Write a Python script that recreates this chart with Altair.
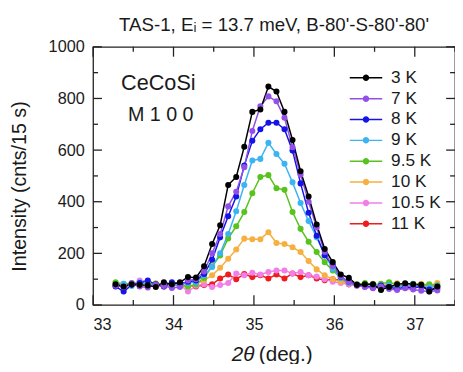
import altair as alt
import pandas as pd

# ---- data ----
two_theta = [33.28, 33.38, 33.48, 33.58, 33.68, 33.78, 33.88, 33.98, 34.08, 34.18,
             34.28, 34.38, 34.48, 34.58, 34.68, 34.78, 34.88, 34.98, 35.08, 35.18,
             35.28, 35.38, 35.48, 35.58, 35.68, 35.78, 35.88, 35.98, 36.08, 36.18,
             36.28, 36.38, 36.48, 36.58, 36.68, 36.78, 36.88, 36.98, 37.08, 37.18,
             37.28]

series_labels = ["3 K", "7 K", "8 K", "9 K", "9.5 K", "10 K", "10.5 K", "11 K"]
series_colors = ["#000000", "#9350e8", "#1414e8", "#3cb4f2", "#58c21e", "#f6b042", "#f27fe9", "#ee1c1c"]

i_3K = [80, 72, 80, 78, 76, 70, 88, 80, 88, 108, 106, 150, 236, 309, 465, 496, 613, 748, 757, 846,
        827, 748, 639, 518, 420, 312, 217, 166, 118, 105, 78, 80, 80, 58, 70, 80, 84, 80, 78, 52, 72]
i_7K = [75, 70, 85, 72, 68, 78, 74, 66, 70, 95, 100, 130, 200, 275, 382, 439, 534, 674, 770, 808,
        789, 725, 611, 505, 400, 300, 205, 150, 110, 88, 75, 70, 65, 72, 62, 58, 65, 60, 55, 52, 56]
i_8K = [72, 52, 78, 85, 95, 80, 72, 88, 82, 90, 95, 120, 175, 262, 344, 420, 540, 636, 681, 706,
        706, 681, 598, 471, 357, 268, 192, 154, 109, 90, 78, 72, 68, 75, 70, 62, 70, 66, 72, 60, 64]
i_9K = [78, 82, 74, 88, 80, 76, 84, 78, 80, 85, 88, 115, 147, 200, 275, 363, 465, 560, 566, 628,
        585, 547, 475, 395, 325, 262, 195, 140, 105, 85, 78, 75, 80, 72, 76, 70, 75, 80, 72, 68, 74]
i_9p5K = [88, 80, 84, 78, 86, 82, 78, 80, 75, 72, 80, 105, 150, 192, 258, 305, 360, 433, 496, 503,
          452, 446, 360, 295, 245, 205, 166, 134, 105, 88, 80, 85, 78, 82, 88, 80, 76, 82, 78, 80, 76]
i_10K = [80, 78, 82, 76, 80, 84, 78, 80, 76, 72, 80, 96, 115, 144, 179, 215, 257, 255, 255, 282,
         240, 236, 224, 205, 170, 138, 115, 100, 90, 84, 80, 78, 82, 76, 80, 84, 78, 80, 82, 76, 85]
i_10p5K = [85, 80, 78, 95, 92, 80, 85, 75, 80, 52, 75, 80, 70, 77, 85, 122, 115, 125, 118, 128,
           134, 134, 122, 128, 115, 110, 100, 90, 85, 80, 76, 74, 80, 72, 70, 78, 74, 70, 76, 72, 70]
i_11K = [75, 72, 78, 74, 80, 76, 72, 78, 74, 76, 72, 77, 80, 103, 118, 100, 120, 108, 115, 103,
         118, 103, 122, 108, 115, 103, 96, 100, 96, 80, 77, 75, 72, 78, 74, 76, 72, 75, 78, 74, 72]

x_major = [33, 34, 35, 36, 37]
x_minor = [33.5, 34.5, 35.5, 36.5, 37.5]
y_major = [0, 200, 400, 600, 800, 1000]
y_minor = [100, 300, 500, 700, 900]

series_values = [i_3K, i_7K, i_8K, i_9K, i_9p5K, i_10K, i_10p5K, i_11K]

rows = []
# draw high-T series first so 3 K sits on top
for label, vals in reversed(list(zip(series_labels, series_values))):
    for x, y in zip(two_theta, vals):
        rows.append({"series": label, "two_theta": x, "intensity": y})
df = pd.DataFrame(rows)

W, H = 368, 262.5
FONT = "Liberation Sans"
TXT = "#1a1a1a"

xscale = alt.Scale(domain=[33, 37.5], nice=False, zero=False)
yscale = alt.Scale(domain=[0, 1000], nice=False, zero=False)

x_axis = alt.Axis(title=None, values=x_major, format="d", ticks=False, domain=False, grid=False,
                  labelFontSize=16.5, labelPadding=12, labelFont=FONT, labelColor=TXT)
y_axis = alt.Axis(title="Intensity (cnts/15 s)", values=y_major, format="d", ticks=False, domain=False, grid=False,
                  labelFontSize=16.5, labelPadding=9, labelFont=FONT, labelColor=TXT,
                  titleFontSize=20, titleFont=FONT, titleFontWeight="normal", titleColor=TXT,
                  titlePadding=19, titleY=141.5)

color_scale = alt.Scale(domain=series_labels, range=series_colors)

legend_path = ("M-1.65,-0.075 L1.65,-0.075 L1.65,0.075 L-1.65,0.075 Z "
               "M0.33,0 A0.33,0.33 0 1,1 -0.33,0 A0.33,0.33 0 1,1 0.33,0 Z")
legend = alt.Legend(title=None, orient="none", legendX=267.5, legendY=21.5,
                    symbolType=legend_path, symbolSize=400, symbolStrokeWidth=0,
                    symbolOpacity=1, labelFontSize=17.5, labelFont=FONT,
                    labelColor=TXT, labelOffset=15.5, rowPadding=2.2, padding=0)

enc_x = alt.X("two_theta:Q", scale=xscale, axis=x_axis)
enc_y = alt.Y("intensity:Q", scale=yscale, axis=y_axis)
enc_c = alt.Color("series:N", scale=color_scale, legend=legend)

lines = alt.Chart(df).mark_line(strokeWidth=1.5).encode(x=enc_x, y=enc_y, color=enc_c)
points = alt.Chart(df).mark_circle(size=38, opacity=1).encode(x=enc_x, y=enc_y, color=enc_c)

def xticks(vals, length, top):
    d = pd.DataFrame({"two_theta": vals})
    if top:
        yy = dict(y=alt.value(0), y2=alt.value(length))
    else:
        yy = dict(y=alt.value(H), y2=alt.value(H - length))
    return alt.Chart(d).mark_rule(color="#222", strokeWidth=1.3).encode(x=enc_x, **yy)

def yticks(vals, length, right):
    d = pd.DataFrame({"intensity": vals})
    if right:
        xx = dict(x=alt.value(W), x2=alt.value(W - length))
    else:
        xx = dict(x=alt.value(0), x2=alt.value(length))
    return alt.Chart(d).mark_rule(color="#222", strokeWidth=1.3).encode(y=enc_y, **xx)

tick_layers = [
    xticks(x_major, 10, False), xticks(x_minor, 5, False),
    xticks(x_major, 10, True), xticks(x_minor, 5, True),
    yticks(y_major, 9, False), yticks(y_minor, 5, False),
    yticks(y_major, 9, True), yticks(y_minor, 5, True),
]

# text annotations
ann = pd.DataFrame({"t": ["CeCoSi"]})
ann2 = pd.DataFrame({"t": ["M 1 0 0"]})
xt1 = pd.DataFrame({"t": ["2θ"]})
xt2 = pd.DataFrame({"t": ["(deg.)"]})
txt1 = alt.Chart(ann).mark_text(align="left", baseline="alphabetic", fontSize=22, font=FONT, color=TXT).encode(
    text="t:N", x=alt.value(28.5), y=alt.value(44))
txt2 = alt.Chart(ann2).mark_text(align="left", baseline="alphabetic", fontSize=20, font=FONT, color=TXT).encode(
    text="t:N", x=alt.value(35.5), y=alt.value(75.5))
xtitle1 = alt.Chart(xt1).mark_text(align="right", baseline="alphabetic", fontSize=21, font=FONT,
                                   fontStyle="italic", color=TXT).encode(
    text="t:N", x=alt.value(164), y=alt.value(319.5))
xtitle2 = alt.Chart(xt2).mark_text(align="left", baseline="alphabetic", fontSize=21, font=FONT, color=TXT).encode(
    text="t:N", x=alt.value(168.5), y=alt.value(319.5))

chart = alt.layer(lines, points, *tick_layers, txt1, txt2, xtitle1, xtitle2).properties(
    width=W, height=H,
    title=alt.Title("TAS-1, Eᵢ = 13.7 meV, B-80'-S-80'-80'", fontSize=19, font=FONT,
                    fontWeight="normal", color=TXT, offset=4.5, anchor="middle"),
    autosize=alt.AutoSizeParams(type="none"),
    padding={"left": 86.5, "top": 36.5, "right": 0, "bottom": 57},
).configure_view(stroke="#222", strokeWidth=1.3)

chart.save("out.html", embed_options={"renderer": "svg", "actions": False})
